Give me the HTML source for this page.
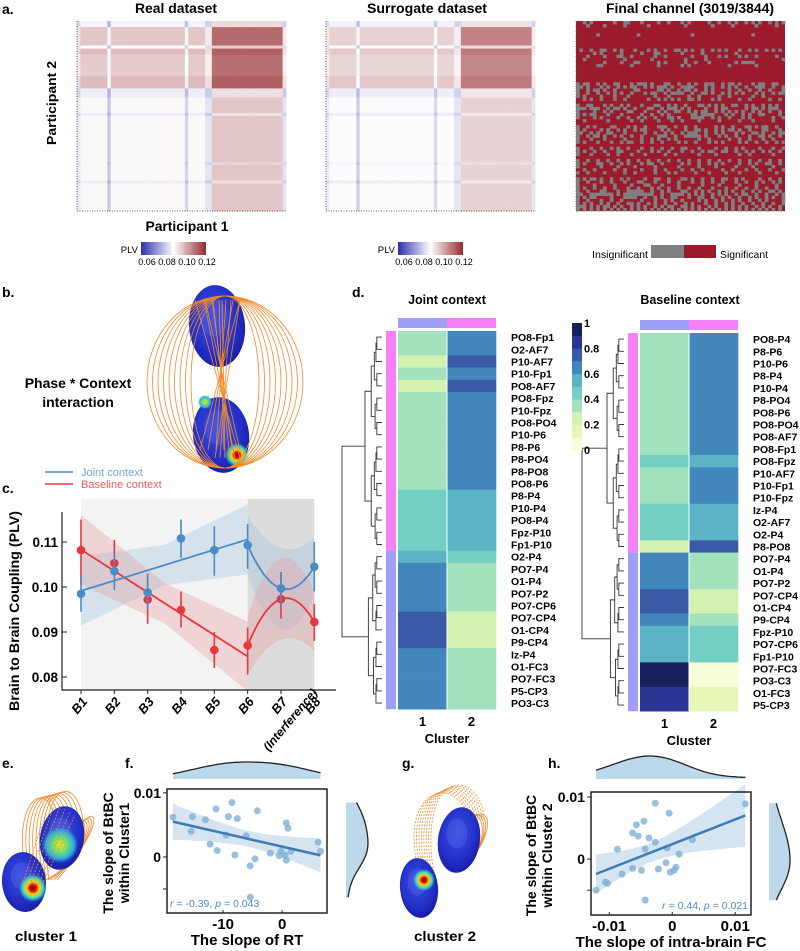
<!DOCTYPE html>
<html><head><meta charset="utf-8"><title>Brain coupling figure</title>
<style>
html,body{margin:0;padding:0;background:#fff;}
svg{display:block;font-family:"Liberation Sans",sans-serif;}
.b{font-weight:bold;}
</style></head>
<body>
<svg id="fig" xmlns="http://www.w3.org/2000/svg" width="800" height="951" viewBox="0 0 800 951">
<defs>
<linearGradient id="plvGrad" x1="0" x2="1" y1="0" y2="0">
<stop offset="0" stop-color="#2f2fb0"/><stop offset="0.5" stop-color="#ffffff"/><stop offset="1" stop-color="#952a2e"/>
</linearGradient>
<radialGradient id="headBlue" cx="0.45" cy="0.4" r="0.6">
<stop offset="0" stop-color="#3b4de0"/><stop offset="0.7" stop-color="#2230c8"/><stop offset="1" stop-color="#1a1fa8"/>
</radialGradient>
<radialGradient id="hot" cx="0.5" cy="0.5" r="0.5">
<stop offset="0" stop-color="#8a0000"/><stop offset="0.25" stop-color="#e01010"/><stop offset="0.45" stop-color="#ffd000"/><stop offset="0.7" stop-color="#40e0c0"/><stop offset="1" stop-color="#40e0c0" stop-opacity="0"/>
</radialGradient>
<radialGradient id="warm" cx="0.5" cy="0.5" r="0.5">
<stop offset="0" stop-color="#f0e020"/><stop offset="0.4" stop-color="#70e070"/><stop offset="0.75" stop-color="#30b0e0"/><stop offset="1" stop-color="#30b0e0" stop-opacity="0"/>
</radialGradient>
</defs>

<text class="b" x="2" y="14" font-size="14">a.</text>
<text class="b" x="176" y="13" font-size="14" text-anchor="middle" textLength="82" lengthAdjust="spacingAndGlyphs">Real dataset</text>
<text class="b" x="427" y="13" font-size="14" text-anchor="middle" textLength="120" lengthAdjust="spacingAndGlyphs">Surrogate dataset</text>
<text class="b" x="690" y="13" font-size="14" text-anchor="middle" textLength="168" lengthAdjust="spacingAndGlyphs">Final channel (3019/3844)</text>
<text class="b" x="56" y="103" font-size="13" text-anchor="middle" transform="rotate(-90 56 103)" textLength="84" lengthAdjust="spacingAndGlyphs">Participant 2</text>
<text class="b" x="187" y="231" font-size="14" text-anchor="middle" textLength="83" lengthAdjust="spacingAndGlyphs">Participant 1</text>

<g>
<text x="138" y="253" font-size="9.5" text-anchor="end">PLV</text>
<rect x="141" y="242" width="65" height="13" fill="url(#plvGrad)"/>
<text x="147" y="265" font-size="9" text-anchor="middle">0.06</text><text x="167" y="265" font-size="9" text-anchor="middle">0.08</text><text x="187" y="265" font-size="9" text-anchor="middle">0.10</text><text x="207" y="265" font-size="9" text-anchor="middle">0.12</text>
</g>
<g>
<text x="395" y="253" font-size="9.5" text-anchor="end">PLV</text>
<rect x="398" y="242" width="65" height="13" fill="url(#plvGrad)"/>
<text x="404" y="265" font-size="9" text-anchor="middle">0.06</text><text x="424" y="265" font-size="9" text-anchor="middle">0.08</text><text x="444" y="265" font-size="9" text-anchor="middle">0.10</text><text x="464" y="265" font-size="9" text-anchor="middle">0.12</text>
</g>
<g>
<text x="648" y="258" font-size="10.5" text-anchor="end" textLength="56" lengthAdjust="spacingAndGlyphs">Insignificant</text>
<rect x="651" y="245" width="33" height="13" fill="#808080"/>
<rect x="684" y="245" width="32" height="13" fill="#9b1b2c"/>
<text x="720" y="258" font-size="10.5" textLength="48" lengthAdjust="spacingAndGlyphs">Significant</text>
</g>

<g id="matReal"></g>
<g id="matSur"></g>
<g id="matSig"></g>

<text class="b" x="2" y="297" font-size="14">b.</text>
<text class="b" x="78" y="388" font-size="14" text-anchor="middle">Phase * Context</text>
<text class="b" x="78" y="407" font-size="14" text-anchor="middle">interaction</text>
<g id="brainB"></g>

<text class="b" x="2" y="493" font-size="14">c.</text>
<g><line x1="45" y1="472" x2="73" y2="472" stroke="#4a8cc5" stroke-width="1.5"/><text x="81" y="476" font-size="11" fill="#6fa6d6">Joint context</text></g>
<g><line x1="45" y1="484" x2="73" y2="484" stroke="#e8383d" stroke-width="1.5"/><text x="81" y="488" font-size="11" fill="#ee5a5e">Baseline context</text></g>
<g id="chartC"></g>

<text class="b" x="352" y="297" font-size="14">d.</text>
<text class="b" x="447" y="304" font-size="12.5" text-anchor="middle">Joint context</text>
<text class="b" x="690" y="304" font-size="12.5" text-anchor="middle">Baseline context</text>
<g id="heatD"></g>

<text class="b" x="2" y="768" font-size="14">e.</text>
<text class="b" x="125" y="768" font-size="14">f.</text>
<text class="b" x="402" y="768" font-size="14">g.</text>
<text class="b" x="548" y="768" font-size="14">h.</text>
<g id="brainE"></g>
<g id="brainG"></g>
<text class="b" x="46" y="941" font-size="14" text-anchor="middle" textLength="62" lengthAdjust="spacingAndGlyphs">cluster 1</text>
<text class="b" x="445" y="941" font-size="14" text-anchor="middle" textLength="62" lengthAdjust="spacingAndGlyphs">cluster 2</text>
<g id="scatF"></g>
<g id="scatH"></g>
</svg>

<script>
// ---------- DATA ----------
const plvBase = 0.088;
const rowProfile = [-4,-4,10,10,10,10,10,10,-2,12,12,9,9,9,9,9,9,9,12,12,12,12,-5,-5,-5,0,0,0,0,0,-5,0,0,0,0,0,0,0,0,0,0,0,0,0,0,0,-3,0,0,0,0,0,-5,0,0,0,0,0,0,0,0,0];
const colProfile = [-1,3,3,3,3,3,3,3,3,-6,3,3,3,3,3,3,3,3,3,3,3,3,3,3,3,3,3,3,3,3,3,3,-4,3,3,3,3,3,-2,-2,10,10,10,10,10,10,10,10,10,10,10,10,10,10,10,10,10,10,10,10,10,-2];
const surrogateScale = 0.85;
const sigRows = [
"..x.x......x..xx...x....x..x...x.x.....x..x..x.x..x.x.x..x.x.x",
"...x....x.....x......x..........x.......x.....x......x.....x..x",
"..............................................................",
"..............................................................",
"......x...........x...............x.................x.........",
"..............................................................",
"..............................................................",
"..............................................................",
"..............................................................",
".x..x..xx..x.x...x...x.x..x..xx.x.x..x..x.x.x...x..x.x..x.x.x.",
".....x.x.....x.....x...xx......x.....x.........x..............",
"...x....x...xx..x......x..x.......x...x...x.x...x.x..x.....x..",
"..x...........x.......x.........x.....x......................x",
"........x....x...xx.....x.x.....x..x...x.......x.xxxx.........",
"......xx........x.......x......x.x...........x.......x........",
"..............................................................",
"..............................................................",
"..............................................................",
"..............................................................",
"..............................................................",
"x.xx..x.x..xx...x.xxx.x...xx..x..x.x..xxx..x.xx.x...x.xx..xx..",
"xx.x...x.x..x.x.xx..x.x.xxx.x..xxxx...x.x..x.x.x..x..xxx..x..x",
"x..x.xx.x..x.....xx.....xx.x..x.xx.x..x.x....x..x..x..x..x...x",
"x..x..x..x.x.x..x...x.xx..x.xxxx..x..xx.x..x.x.x.x...x.x..x.xx",
"x.x....x...x...x.......x...x.....x..x.....x..x......x..x......",
"..x.x..x...x..x......x..x.x.x.x..xx.x...x.x.....x..x.....x..x.",
"..............................................................",
"x..xx...x.x..x.x...x...xx..x.x..x...xx.x.x.x..xx..x.x..x.x.x..",
"xxx.xxx..x.xx.x..x...xx..x.xxx.x.x....x..x.xx.....x.xx.x.xxx..",
"x....x..x.x....xx...x...x.x..xx..x.x.xx..x.x.x.x.x..x.x..x..x.",
"x.x.xx...x...x.....x..x..x.x......xx.xxxx...x.x..x.x..xx....x.",
"x....x.x....x..x..x.x..x...xx.x...xxxx..x.x..x...x.x......x..x",
"..x......x......x..x....x...x..x....x.....x.....x...x.....x...",
"..............................................................",
"x..x.x....xx...x.x..x...xxx..x..x..x.....x.x..x...xx.x.xx..x..",
"x.x....x.x..x.x..x.xx....x.x....x..xx.x..x.x.xx.x..x...xx...x.",
"xx..x.x..xx...x.....x..x..x.x..x.xxx..x..x.x...x.x..xx.x..x.xx",
"x..x.xx.x..x.x..x..x....xxx..x..xxxxx.x...x.x..x...x..xx.x..x.",
"x...x...x.....x....x..x.x..x.x......x..x.....x..x..x...x..x...",
"x.x...x...x..x.xx..x..x..x....x.x..x...x.x.x....x.x..x..x..x.x",
"..............................................................",
"x...x..x..x.x..x...x..x..x..x..xx...x....x..x..x.x....x...x..x",
"x.x..x..x...xx....x...x.x..x...x..x..x.xx..xx..x..x.x..x.x..x.",
"x...x....x..x...x...x.....x..x......x....x......x..x......x...",
"..............................................................",
"x..x..x..x..x..x..x..x..x..x..x..x..x..x..x..x..x..x..x..x..x.",
"x.x...xx..x..x.x...x.xx..x.....x.x..x..x.x.x....x..x.x..xx..x.",
"x......x....x....x.....x......x.....x....x.....x....x.....x...",
"..x..x.....x..x....x...x..x....x..x..x.....x..x...x..x...x...x",
"x..x....x.....x..x.....x...x.x.....x...x....x...x.....x....x..",
"..............................................................",
"x.x.xx.x..x..x.x....x..xx..x...xx.x..x..x..xx..x.x....x..x..x.",
"x..x...x..x...x...xx...x...x..x...x..x..x..x...x..x..x.x..x.x.",
"x....x.....x....x...xx...x....x......x....x.....x....x.....x..",
"x.x..x..x..x...x..x...x.x..x..x..x..x...x...x..x..x..x..x..x..",
"x..x...xx...x..xxxxx..x..x.x...xx..x.x.x..x.x.x..x..x.x..xx.x.",
"xx..xxxxxxx.x.xxxxxxxxx..x..xxxx.x.x.x..x.x.x..x.xx..x..x..x.x",
"x.x.xx....x...xxxx..x..x.x..xx...x..xx..x..x.x..x..x.x..x.x..x",
"x..x...x..x..x.....x...x..x.x..x....x.x..x.x..x.x..x..x.x....x",
"x.x.x..x.x..x..xx.x..x.x..x..x..x.x...x..x..x.x..x..x..x..x..x",
"xxx.x.x.xx.x.x..x.x.x..x.x.xx..xx.x.x..x.x..x.x.x.x..x.x.x..x.",
"x.x.x.x.x.x.x.x.x.x.x.x.x.x.x.x.x.x.x.x.x.x.x.x.x.x.x.x.x.x.x."
];

const phases = ["B1","B2","B3","B4","B5","B6","B7","B8"];
const jointMean = [0.0985,0.1035,0.0988,0.1108,0.1082,0.1093,0.0997,0.1045];
const jointLow  = [0.0945,0.0993,0.0950,0.1065,0.1025,0.1040,0.0960,0.0990];
const jointHigh = [0.1025,0.1075,0.1030,0.1150,0.1135,0.1140,0.1033,0.1100];
const baseMean  = [0.1082,0.1053,0.0972,0.0949,0.0860,0.0870,0.0973,0.0922];
const baseLow   = [0.1005,0.1000,0.0918,0.0910,0.0820,0.0805,0.0930,0.0880];
const baseHigh  = [0.1150,0.1105,0.1028,0.0990,0.0900,0.0910,0.1033,0.0962];
const yTicksC = [0.08,0.09,0.10,0.11];

const jointRows = ["PO8-Fp1","O2-AF7","P10-AF7","P10-Fp1","PO8-AF7","PO8-Fpz","P10-Fpz","PO8-PO4","P10-P6","P8-P6","P8-PO4","P8-PO8","PO8-P6","P8-P4","P10-P4","PO8-P4","Fpz-P10","Fp1-P10","O2-P4","PO7-P4","O1-P4","PO7-P2","PO7-CP6","PO7-CP4","O1-CP4","P9-CP4","Iz-P4","O1-FC3","PO7-FC3","P5-CP3","PO3-C3"];
const jointC1 = [0.35,0.35,0.25,0.35,0.25,0.35,0.35,0.35,0.35,0.35,0.35,0.35,0.35,0.45,0.45,0.45,0.45,0.45,0.55,0.65,0.65,0.65,0.65,0.75,0.75,0.75,0.65,0.65,0.65,0.65,0.65];
const jointC2 = [0.65,0.65,0.75,0.65,0.75,0.65,0.65,0.65,0.65,0.65,0.65,0.65,0.65,0.55,0.55,0.55,0.55,0.55,0.45,0.35,0.35,0.35,0.35,0.25,0.25,0.25,0.35,0.35,0.35,0.35,0.35];
const baseRows = ["PO8-P4","P8-P6","P10-P6","P8-P4","P10-P4","P8-PO4","PO8-P6","PO8-PO4","PO8-AF7","PO8-Fp1","PO8-Fpz","P10-AF7","P10-Fp1","P10-Fpz","Iz-P4","O2-AF7","O2-P4","P8-PO8","PO7-P4","O1-P4","PO7-P2","PO7-CP4","O1-CP4","P9-CP4","Fpz-P10","PO7-CP6","Fp1-P10","PO7-FC3","PO3-C3","O1-FC3","P5-CP3"];
const baseC1 = [0.35,0.35,0.35,0.35,0.35,0.35,0.35,0.35,0.35,0.35,0.45,0.35,0.35,0.35,0.45,0.45,0.45,0.25,0.65,0.65,0.65,0.75,0.75,0.65,0.55,0.55,0.55,0.95,0.95,0.85,0.85];
const baseC2 = [0.65,0.65,0.65,0.65,0.65,0.65,0.65,0.65,0.65,0.65,0.55,0.65,0.65,0.65,0.55,0.55,0.55,0.75,0.35,0.35,0.35,0.25,0.25,0.35,0.45,0.45,0.45,0.05,0.05,0.15,0.15];
const clusterSplit = 18;
const cbarTicks = ["0","0.2","0.4","0.6","0.8","1"];

const rtX  = [-18.5,-15.2,-15.4,-13,-11.2,-12.2,-11,-9.5,-9.1,-8.5,-7.6,-8,-6.1,-4.6,-5.4,-5.4,-4.2,-2,-0.5,-0.2,0.7,1.0,0.7,1.5,6.1,6.5,0.5];
const rtY  = [0.0062,0.0063,0.0040,0.0058,0.0075,0.0020,0.0010,0.0034,0.0063,0.0085,0.0060,0.0003,0.0033,-0.0003,-0.0014,-0.0063,0.0072,0.0006,0.0002,0.0009,0.0053,0.0045,-0.0005,0.0009,0.0023,0.0009,0.0003];
const fXTicks = [-10,0];
const fYTicks = [0.01,0,-0.005];
const fcX = [-0.0121,-0.0106,-0.0103,-0.0087,-0.0080,-0.0063,-0.0063,-0.0057,-0.0054,-0.0045,-0.0049,-0.0043,-0.0043,-0.0037,-0.0027,-0.0027,-0.0022,-0.0010,-0.0008,-0.0005,-0.0003,0.0003,0.0006,0.0011,0.0032,0.0116];
const fcY = [-0.0050,-0.0037,-0.0039,0.0016,-0.0024,-0.0015,0.0042,0.0055,0.0037,0.0061,-0.0018,-0.0066,0.0016,0.0034,0.0090,0.0027,-0.0016,-0.0006,0.0018,0.0074,-0.0021,-0.0018,-0.0013,0.0008,0.0031,0.0089];
const hXTicks = [-0.01,0,0.01];
const hYTicks = [0.01,0,-0.005];

// ---------- HELPERS ----------
const NS = 'http://www.w3.org/2000/svg';
function el(tag, parent){ const e=document.createElementNS(NS,tag); parent.appendChild(e); return e; }
function set(e,o){ for(const k in o) e.setAttribute(k,o[k]); return e; }
function lerp(a,b,t){return a+(b-a)*t;}
function plvColor(v){
  let t=Math.max(0,Math.min(1,(v-0.06)/0.06));
  let c;
  if(t<0.5){const s=t/0.5; c=[lerp(47,255,s),lerp(47,255,s),lerp(176,255,s)];}
  else{const s=(t-0.5)/0.5; c=[lerp(255,149,s),lerp(255,42,s),lerp(255,46,s)];}
  return 'rgb('+c.map(Math.round).join(',')+')';
}

// ---------- PANEL A ----------
function drawPLVMatrix(g, x0, y0, w, h, scale){
  const n=rowProfile.length, cw=w/n, ch=h/n;
  for(let i=0;i<n;i++){
    for(let j=0;j<n;j++){
      const r=rowProfile[i]/1000, c=colProfile[j]/1000;
      const v = plvBase + scale*(0.7*r + c + (r>0&&c>=0.01?0.006:0));
      const rc=el('rect',g);
      
      
      set(rc,{x:(x0+j*cw).toFixed(2),y:(y0+i*ch).toFixed(2),width:(cw+0.4).toFixed(2),height:(ch+0.4).toFixed(2),fill:plvColor(v)});
    }
  }
  const b=el('path',g);
  
  
  set(b,{d:`M${x0},${y0}V${y0+h}H${x0+w}`,fill:'none',stroke:'#333','stroke-width':0.8,'stroke-dasharray':'1,1.5'});
}
drawPLVMatrix(document.getElementById('matReal'),77,21,209,190,1);
drawPLVMatrix(document.getElementById('matSur'),326,21,209,190,surrogateScale);
(function(){
  const g=document.getElementById('matSig'); const x0=576,y0=21,w=209,h=190,n=62,cw=w/n,ch=h/n;
  const bg=el('rect',g);
  
  
  set(bg,{x:x0,y:y0,width:w,height:h,fill:'#9b1b2c'});
  for(let i=0;i<n;i++){const row=sigRows[i]||'';for(let j=0;j<n;j++){ if(row.charAt(j)==='x'){
    const rc=el('rect',g);
    
    
    set(rc,{x:(x0+j*cw).toFixed(2),y:(y0+i*ch).toFixed(2),width:(cw+0.3).toFixed(2),height:(ch+0.3).toFixed(2),fill:'#808080'});
  }}}
  const b=el('path',g);
  
  
  set(b,{d:`M${x0},${y0}V${y0+h}H${x0+w}`,fill:'none',stroke:'#555','stroke-width':0.8,'stroke-dasharray':'1,1.5'});
})();

// ---------- BRAINS ----------
function head(g,cx,cy,rx,ry,rot){
  const e=el('ellipse',g);
  
  
  set(e,{cx,cy,rx,ry,fill:'url(#headBlue)',transform:`rotate(${rot} ${cx} ${cy})`});
  const m=el('ellipse',g);
  
  
  set(m,{cx:cx-rx*0.1,cy:cy-ry*0.2,rx:rx*0.5,ry:ry*0.45,fill:'#5a6af0',opacity:0.35});
}
function blob(g,cx,cy,r,grad){
  const e=el('circle',g);
  
  
  set(e,{cx,cy,r,fill:`url(#${grad})`});
}
function arc(g,d,dash){
  const p=el('path',g);
  
  
  set(p,{d,fill:'none',stroke:'#f08a2c','stroke-width':0.8,'stroke-dasharray':dash||'none'});
}
(function(){
  const g=document.getElementById('brainB');
  head(g,217,326,28,41,-5);
  head(g,221,435,28,38,-8);
  blob(g,205,402,7,'warm');
  blob(g,237,455,12,'hot');
  for(let k=0;k<9;k++){ const rx=34+k*5.5; arc(g,`M225,296 A${rx},86 0 0 0 225,468`); arc(g,`M225,296 A${rx},86 0 0 1 225,468`); }
  for(let k=0;k<6;k++){ arc(g,`M${195+k*9},300 L${240-k*5},458`); arc(g,`M${240-k*7},300 L${200+k*8},450`); }
})();
(function(){
  const g=document.getElementById('brainE');
  for(let k=0;k<8;k++){ arc(g,`M${28+k*3},880 C${5+k*4},${790-k*3} ${60+k*4},${770} ${55+k*4},840`); }
  for(let k=0;k<5;k++){ arc(g,`M${45+k*3},880 C${90+k*5},${860-k*10} ${95},${800} ${70+k*2},830`); }
  head(g,62,838,22,32,10);
  blob(g,60,845,18,'warm');
  head(g,24,882,22,30,-5);
  blob(g,33,888,14,'hot');
  for(let k=0;k<6;k++) arc(g,`M${22+k*4},885 L${50+k*5},${800+k*3}`,'2,1.5');
})();
(function(){
  const g=document.getElementById('brainG');
  for(let k=0;k<8;k++){ arc(g,`M${420+k*2},875 C${395+k*3},${790-k*4} ${455+k*4},${770} ${470+k*2},820`,'2,1.5'); }
  for(let k=0;k<4;k++){ arc(g,`M${460+k*3},820 C${485+k*4},${800} ${490},${840} ${470},860`); }
  head(g,459,840,21,33,8);
  head(g,419,888,19,30,-5);
  blob(g,424,880,11,'hot');
})();

// ---------- PANEL C ----------
(function(){
  const g=document.getElementById('chartC');
  const X0=81, DX=33.33;
  const xS=i=>X0+i*DX;
  const yS=v=>587-(v-0.10)*4500;
  const bg1=el('rect',g);  
  set(bg1,{x:xS(0),y:499,width:xS(5)-xS(0),height:690-499,fill:'#f3f3f3'});
  const bg2=el('rect',g);  
  set(bg2,{x:xS(5),y:499,width:xS(7)-xS(5),height:690-499,fill:'#dcdcdc'});
  function fit(arr){const n=6;let mx=2.5,my=0;for(let i=0;i<n;i++)my+=arr[i];my/=n;let sxy=0,sxx=0;for(let i=0;i<n;i++){sxy+=(i-mx)*(arr[i]-my);sxx+=(i-mx)*(i-mx);}const b=sxy/sxx;return [my-b*mx,b];}
  function series(mean,lo,hi,color,band,name){
    const [a,b]=fit(mean);
    let up=[],dn=[];
    for(let t=0;t<=50;t++){const x=t/10;const hw=0.0045+0.0013*Math.abs(x-2.5);const y=a+b*x;up.push([xS(x),yS(y+hw)]);dn.push([xS(x),yS(y-hw)]);}
    const p1=el('path',g);  
    set(p1,{d:'M'+up.map(q=>q.join(',')).join('L')+'L'+dn.reverse().map(q=>q.join(',')).join('L')+'Z',fill:band,opacity:0.35});
    const y0=mean[5],y1=mean[6],y2=mean[7];const qa=(y0-2*y1+y2)/2,qb=(y2-y0)/2;
    let cu=[],cd=[],cl=[];
    for(let t=-1;t<=1.0001;t+=0.05){const y=y1+qb*t+qa*t*t;const hw=0.0065+0.0025*(1-t*t);const x=xS(6+t);cl.push([x,yS(y)]);cu.push([x,yS(y+hw)]);cd.push([x,yS(y-hw)]);}
    const p2=el('path',g);  
    set(p2,{d:'M'+cu.map(q=>q.join(',')).join('L')+'L'+cd.reverse().map(q=>q.join(',')).join('L')+'Z',fill:band,opacity:0.35});
    return ()=>{
      const l=el('line',g);  
      set(l,{x1:xS(0),y1:yS(a),x2:xS(5),y2:yS(a+5*b),stroke:color,'stroke-width':1.8});
      const c=el('path',g);  
      set(c,{d:'M'+cl.map(q=>q.map(v=>v.toFixed(1)).join(',')).join('L'),fill:'none',stroke:color,'stroke-width':1.8});
      for(let i=0;i<mean.length;i++){
        const eb=el('line',g);  
        set(eb,{x1:xS(i),x2:xS(i),y1:yS(lo[i]),y2:yS(hi[i]),stroke:color,'stroke-width':1.6});
        const pt=el('circle',g);  
        set(pt,{cx:xS(i),cy:yS(mean[i]),r:4.3,fill:color});
      }
    };
  }
  const d1=series(jointMean,jointLow,jointHigh,'#4a8cc5','#9fc3e0','joint');
  const d2=series(baseMean,baseLow,baseHigh,'#e8383d','#e79aa0','baseline');
  d2(); d1();
  const ax=el('path',g);  
  set(ax,{d:'M62,512V690H336',fill:'none',stroke:'#222','stroke-width':1.2});
  yTicksC.forEach(v=>{
    const t=el('line',g);  
    set(t,{x1:62,x2:67,y1:yS(v),y2:yS(v),stroke:'#222'});
    const tx=el('text',g);  
    set(tx,{x:58,y:yS(v)+5,'font-size':13.5,'font-weight':'bold','text-anchor':'end'}); tx.textContent=v.toFixed(2);
  });
  phases.forEach((p,i)=>{
    const t=el('line',g);  
    set(t,{x1:xS(i),x2:xS(i),y1:690,y2:694,stroke:'#222'});
    const tx=el('text',g);  
    const x=xS(i)+7,y=702;
    set(tx,{x,y,'font-size':13,'font-weight':'bold','font-style':'italic','text-anchor':'end',transform:`rotate(-50 ${x} ${y})`}); tx.textContent=p;
  });
  const it=el('text',g);  
  set(it,{x:318,y:693,'font-size':12,'font-weight':'bold','font-style':'italic','text-anchor':'end',transform:'rotate(-50 318 693)'}); it.textContent='(Interference)';
  const yl=el('text',g);  
  set(yl,{x:19,y:611,'font-size':13.5,'font-weight':'bold','text-anchor':'middle',transform:'rotate(-90 19 611)',textLength:200,lengthAdjust:'spacingAndGlyphs'}); yl.textContent='Brain to Brain Coupling  (PLV)';
})();

// ---------- PANEL D ----------
const cbColors=['#f8fcd8','#e6f7b5','#d3f1b1','#a1e1bc','#73cfc4','#5ab4c5','#4287bb','#3a5aa8','#2b3694','#16205a'];
function hmColor(v){return cbColors[Math.min(9,Math.max(0,Math.floor(v*10)))];}
function drawDendro(g,leafYs,xLeaf,xRoot,split){
  function node(lo,hi,depth){
    if(lo===hi) return {x:xLeaf,y:leafYs[lo]};
    const mid = (depth===0)? split-1 : Math.floor((lo+hi)/2);
    const a=node(lo,mid,depth+1), b=node(mid+1,hi,depth+1);
    const n=hi-lo+1;
    const x = depth===0 ? xRoot : xLeaf - Math.min(xLeaf-xRoot-6, 3+Math.pow(n,0.85)*1.2);
    const p=el('path',g);  
    set(p,{d:`M${a.x},${a.y}H${x}V${b.y}H${b.x}`,fill:'none',stroke:'#333','stroke-width':0.9});
    return {x,y:(a.y+b.y)/2};
  }
  node(0,leafYs.length-1,0);
}
function drawHeat(g,x0,y0,rows,c1,c2,name,dendroLeft){
  const cw=49, rh=12.2, n=rows.length;
  const cb1=el('rect',g);  
  set(cb1,{x:x0,y:y0-13,width:cw,height:10,fill:'#9f9ff8'});
  const cb2=el('rect',g);  
  set(cb2,{x:x0+cw,y:y0-13,width:cw,height:10,fill:'#f77ff7'});
  const s1=el('rect',g);  
  set(s1,{x:x0-12,y:y0,width:10,height:clusterSplit*rh,fill:'#f77ff7'});
  const s2=el('rect',g);  
  set(s2,{x:x0-12,y:y0+clusterSplit*rh,width:10,height:(n-clusterSplit)*rh,fill:'#9f9ff8'});
  const leafYs=[];
  for(let i=0;i<n;i++){
    [c1[i],c2[i]].forEach((v,k)=>{
      const r=el('rect',g);  
      set(r,{x:x0+k*cw,y:(y0+i*rh).toFixed(2),width:cw+0.3,height:rh+0.3,fill:hmColor(v)});
    });
    const t=el('text',g);  
    set(t,{x:x0+cw*2+15,y:(y0+i*rh+rh/2+4).toFixed(1),'font-size':10.5,'font-weight':'bold'}); t.textContent=rows[i];
    leafYs.push(y0+i*rh+rh/2);
  }
  const sep=el('line',g);  
  set(sep,{x1:x0+cw,x2:x0+cw,y1:y0,y2:y0+n*rh,stroke:'#fff','stroke-width':1});
  ['1','2'].forEach((l,k)=>{const t=el('text',g);  
    set(t,{x:x0+cw*k+cw/2,y:y0+n*rh+17,'font-size':13,'font-weight':'bold','text-anchor':'middle'}); t.textContent=l;});
  const ct=el('text',g);  
  set(ct,{x:x0+cw,y:y0+n*rh+34,'font-size':13,'font-weight':'bold','text-anchor':'middle'}); ct.textContent='Cluster';
  drawDendro(g,leafYs,x0-16,dendroLeft,clusterSplit);
}
(function(){
  const g=document.getElementById('heatD');
  drawHeat(g,398,331,jointRows,jointC1,jointC2,'joint-heatmap',342);
  drawHeat(g,640,333,baseRows,baseC1,baseC2,'baseline-heatmap',582);
  const cx=572,cyTop=323,cyBot=450,h=(cyBot-cyTop)/10;
  cbColors.forEach((c,i)=>{const r=el('rect',g);  
    set(r,{x:cx,y:(cyBot-(i+1)*h).toFixed(2),width:10,height:(h+0.3).toFixed(2),fill:c});});
  cbarTicks.forEach((l,i)=>{const t=el('text',g);  
    set(t,{x:584,y:(cyBot-i*2*h+4).toFixed(1),'font-size':11,'font-weight':'bold'}); t.textContent=l;});
})();

// ---------- SCATTER ----------
function scatter(g,xs,ys,box,xDom,yDom,xTicks,yTicks,xFmt,yFmt,xTitle,yTitle1,yTitle2,stat,statAnchor,titleX,topD,rightD){
  const xS=v=>box.x+(v-xDom[0])/(xDom[1]-xDom[0])*box.w;
  const yS=v=>box.y+box.h-(v-yDom[0])/(yDom[1]-yDom[0])*box.h;
  const n=xs.length;let mx=0,my=0;xs.forEach(v=>mx+=v);ys.forEach(v=>my+=v);mx/=n;my/=n;
  let sxx=0,sxy=0;for(let i=0;i<n;i++){sxx+=(xs[i]-mx)**2;sxy+=(xs[i]-mx)*(ys[i]-my);}
  const b=sxy/sxx,a=my-b*mx;let sse=0;for(let i=0;i<n;i++)sse+=(ys[i]-a-b*xs[i])**2;const se=Math.sqrt(sse/(n-2));
  const x1=Math.min(...xs),x2=Math.max(...xs);
  let up=[],dn=[];
  for(let t=0;t<=40;t++){const x=x1+(x2-x1)*t/40;const hw=2.06*se*Math.sqrt(1/n+(x-mx)**2/sxx);up.push([xS(x),yS(a+b*x+hw)]);dn.push([xS(x),yS(a+b*x-hw)]);}
  const band=el('path',g);  
  set(band,{d:'M'+up.map(q=>q.map(v=>v.toFixed(1)).join(',')).join('L')+'L'+dn.reverse().map(q=>q.map(v=>v.toFixed(1)).join(',')).join('L')+'Z',fill:'#a9cbe3',opacity:0.5});
  for(let i=0;i<n;i++){const c=el('circle',g);  
    set(c,{cx:xS(xs[i]).toFixed(1),cy:yS(ys[i]).toFixed(1),r:3.5,fill:'#7fb0d6',opacity:0.8});}
  const l=el('line',g);  
  set(l,{x1:xS(x1),y1:yS(a+b*x1),x2:xS(x2),y2:yS(a+b*x2),stroke:'#3f7cb3','stroke-width':2.5});
  const fr=el('rect',g);  
  set(fr,{x:box.x,y:box.y,width:box.w,height:box.h,fill:'none',stroke:'#222','stroke-width':1.5});
  xTicks.forEach(v=>{const t=el('text',g);  
    set(t,{x:xS(v),y:box.y+box.h+16,'font-size':15,'font-weight':'bold','text-anchor':'middle'}); t.textContent=xFmt(v);
    const tk=el('line',g);  
    set(tk,{x1:xS(v),x2:xS(v),y1:box.y+box.h,y2:box.y+box.h-3,stroke:'#222'});});
  yTicks.forEach(v=>{const tk=el('line',g);  
    set(tk,{x1:box.x-4,x2:box.x,y1:yS(v),y2:yS(v),stroke:'#222'});
    const lab=yFmt(v); if(lab){const t=el('text',g);  
    set(t,{x:box.x-6,y:yS(v)+5,'font-size':14,'font-weight':'bold','text-anchor':'end'}); t.textContent=lab;}});
  const xt=el('text',g);  
  set(xt,{x:box.x+box.w/2,y:box.y+box.h+32,'font-size':15,'font-weight':'bold','text-anchor':'middle'}); xt.textContent=xTitle;
  [yTitle1,yTitle2].forEach((s,k)=>{const t=el('text',g);  
    const X=titleX+k*16,Y=box.y+box.h/2+2; set(t,{x:X,y:Y,'font-size':14,'font-weight':'bold','text-anchor':'middle',transform:`rotate(-90 ${X} ${Y})`}); t.textContent=s;});
  const st=el('text',g);  
  set(st,{x:statAnchor==='start'?box.x+3:box.x+box.w-3,y:box.y+box.h-6,'font-size':10.5,fill:'#4a8cc5','text-anchor':statAnchor});
  st.innerHTML=stat;
  function kde(arr,grid,bw){return grid.map(g0=>arr.reduce((s,v)=>s+Math.exp(-0.5*((g0-v)/bw)**2),0));}
  const gx=[];for(let t=0;t<=40;t++)gx.push(x1+(x2-x1)*t/40);
  const dx=kde(xs,gx,(x2-x1)*0.18);const mxd=Math.max(...dx);
  const tp=gx.map((v,i)=>[xS(v),topD.base-dx[i]/mxd*topD.h]);
  const td=el('path',g);  
  set(td,{d:`M${xS(x1)},${topD.base}L`+tp.map(q=>q.map(v=>v.toFixed(1)).join(',')).join('L')+`L${xS(x2)},${topD.base}Z`,fill:'#bcd8ea',stroke:'none'});
  const tl=el('path',g);  
  set(tl,{d:'M'+tp.map(q=>q.map(v=>v.toFixed(1)).join(',')).join('L'),fill:'none',stroke:'#222','stroke-width':1.3});
  const y1=Math.min(...ys),y2=Math.max(...ys);const gy=[];for(let t=0;t<=40;t++)gy.push(y1+(y2-y1)*t/40);
  const dy=kde(ys,gy,(y2-y1)*0.18);const myd=Math.max(...dy);
  const rp=gy.map((v,i)=>[rightD.base+dy[i]/myd*rightD.w,yS(v)]);
  const rd=el('path',g);  
  set(rd,{d:`M${rightD.base},${yS(y1)}L`+rp.map(q=>q.map(v=>v.toFixed(1)).join(',')).join('L')+`L${rightD.base},${yS(y2)}Z`,fill:'#bcd8ea'});
  const rl=el('path',g);  
  set(rl,{d:'M'+rp.map(q=>q.map(v=>v.toFixed(1)).join(',')).join('L'),fill:'none',stroke:'#222','stroke-width':1.3});
}
scatter(document.getElementById('scatF'),rtX,rtY,{x:167,y:789,w:160,h:124},[-19.5,7.6],[-0.00875,0.0106],fXTicks,fYTicks,
  v=>v===0?'0':String(v), v=>v===0.01?'0.01':(v===0?'0':''),
  'The slope of RT','The slope of BtBC','within Cluster1','<tspan font-style="italic">r</tspan> = -0.39, <tspan font-style="italic">p</tspan> = 0.043','start',113,{base:779,h:17},{base:346,w:22});
scatter(document.getElementById('scatH'),fcX,fcY,{x:591,y:792,w:160,h:123},[-0.0129,0.0125],[-0.0090,0.0108],hXTicks,hYTicks,
  v=>v===0?'0':(v<0?'-0.01':'0.01'), v=>v===0.01?'0.01':(v===0?'0':''),
  'The slope of intra-brain FC','The slope of BtBC','within Cluster 2','<tspan font-style="italic">r</tspan> = 0.44, <tspan font-style="italic">p</tspan> = 0.021','end',536,{base:779,h:23},{base:769,w:21});
</script>
</body></html>
